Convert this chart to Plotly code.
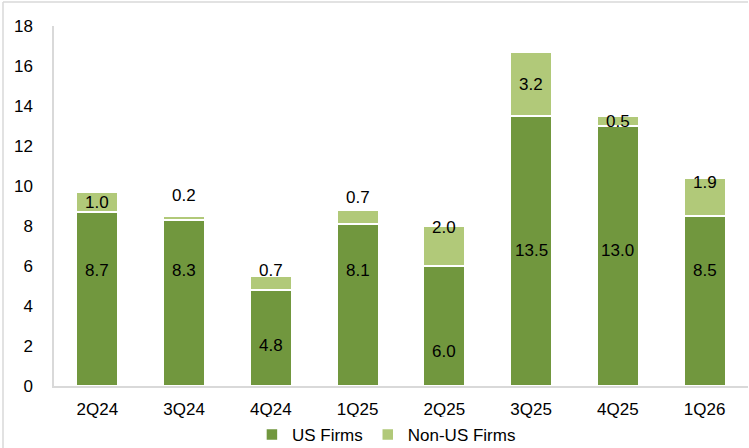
import plotly.graph_objects as go

quarters = ["2Q24", "3Q24", "4Q24", "1Q25", "2Q25", "3Q25", "4Q25", "1Q26"]
us_firms = [8.7, 8.3, 4.8, 8.1, 6.0, 13.5, 13.0, 8.5]
non_us_firms = [1.0, 0.2, 0.7, 0.7, 2.0, 3.2, 0.5, 1.9]

# label nudges in pixels (the source places labels by hand)
us_shift = [29, 33, -7, 35, -25, 1, 6, 31]
non_us_shift = [0, 23, 13, 20, 19, 0, 0, 15]

dark = "#71973e"
light = "#b1c979"
font = "Liberation Sans, Arial, sans-serif"
fs = 17

fig = go.Figure()
fig.add_trace(go.Bar(x=quarters, y=us_firms, name="US Firms",
                     marker=dict(color=dark, line=dict(color="white", width=1.5))))
fig.add_trace(go.Bar(x=quarters, y=non_us_firms, name="Non-US Firms",
                     marker=dict(color=light, line=dict(color="white", width=1.5))))

for q, u, n, su, sn in zip(quarters, us_firms, non_us_firms, us_shift, non_us_shift):
    fig.add_annotation(x=q, y=u / 2, text=f"{u:.1f}", showarrow=False, yshift=su,
                       font=dict(size=fs, color="black", family=font))
    fig.add_annotation(x=q, y=u + n / 2, text=f"{n:.1f}", showarrow=False, yshift=sn,
                       font=dict(size=fs, color="black", family=font))

# chart frame: only its top and left edges fall inside the image
fx = (3 - 54) / 694
fy = 1 + 24 / 360
frame = dict(color="#d9d9d9", width=1.5)
fig.add_shape(type="line", xref="paper", yref="paper", x0=fx, x1=1.0, y0=fy, y1=fy,
              line=frame, layer="below")
fig.add_shape(type="line", xref="paper", yref="paper", x0=fx, x1=fx, y0=-0.2, y1=fy,
              line=frame, layer="below")

fig.update_layout(
    width=749, height=448,
    barmode="stack", bargap=0.52,
    plot_bgcolor="white", paper_bgcolor="white",
    margin=dict(l=54, r=1, t=26, b=62, autoexpand=False),
    font=dict(family=font, size=fs, color="black"),
    legend=dict(orientation="h", x=0.479, xanchor="center", y=-0.136, yanchor="middle",
                font=dict(size=fs), traceorder="normal", itemwidth=30),
    xaxis=dict(showline=True, linecolor="#d9d9d9", linewidth=1.5, ticks="", mirror=False,
               ticklabelstandoff=7, tickfont=dict(size=fs)),
    yaxis=dict(range=[0, 18], dtick=2, showgrid=False, zeroline=False, showline=True,
               linecolor="#d9d9d9", linewidth=1.5, ticks="", ticklabelstandoff=16,
               mirror=False, tickfont=dict(size=fs)),
)

fig.write_html("out.html", config={"displayModeBar": False},
               post_script="document.body.style.margin='0';document.body.style.overflow='hidden';")
